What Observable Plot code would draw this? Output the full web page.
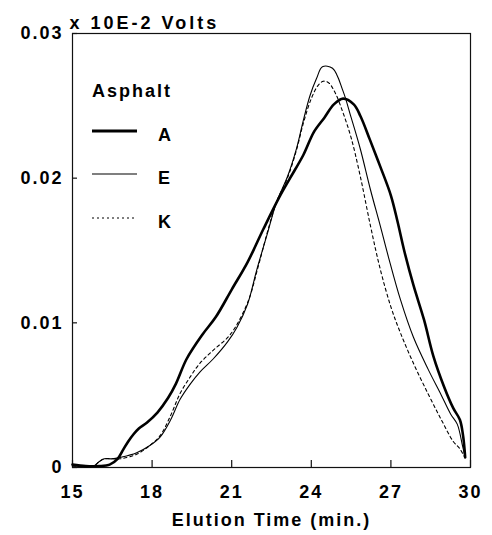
<!DOCTYPE html>
<html>
<head>
<meta charset="utf-8">
<script src="https://cdn.jsdelivr.net/npm/d3@7"></script>
<script src="https://cdn.jsdelivr.net/npm/@observablehq/plot@0.6"></script>
<style>
  html, body { margin: 0; padding: 0; background: #fff; }
  #wrap { position: relative; width: 492px; height: 535px; }
  #legend { position: absolute; left: 0; top: 0; pointer-events: none; }
  #legend text { font-family: "Liberation Sans", Arial, sans-serif; font-weight: bold; font-size: 18px; letter-spacing: 2px; fill: #000; }
</style>
</head>
<body>
<div id="wrap"></div>
<script>
// ---- data ----
const xTicks = [15, 18, 21, 24, 27, 30];
const yTicks = [0, 0.01, 0.02, 0.03];
const yTickLabels = ["0", "0.01", "0.02", "0.03"];
const seriesNames = ["A", "E", "K"];

const aTime = [15.0,15.5,16.0,16.4,16.7,16.9,17.1,17.3,17.5,17.8,18.2,18.6,18.9,19.3,19.9,20.4,21.0,21.6,22.2,22.8,23.2,23.7,24.1,24.5,24.85,25.2,25.6,25.85,26.2,26.6,27.0,27.25,27.5,27.85,28.25,28.6,29.0,29.35,29.6,29.72,29.8];
const aVolt = [0.0002,0.0001,0.0001,0.0002,0.0006,0.0012,0.0018,0.0023,0.0027,0.0031,0.0038,0.0048,0.0058,0.0075,0.0092,0.0104,0.0123,0.0142,0.0165,0.0187,0.0200,0.0216,0.0232,0.0242,0.0251,0.0255,0.0251,0.0243,0.0227,0.0208,0.0188,0.0170,0.0150,0.0126,0.0102,0.0077,0.0056,0.0041,0.0033,0.0022,0.0007];

const eTime = [15.0,15.8,16.0,16.2,16.5,16.8,17.4,17.9,18.3,18.7,19.05,19.45,19.8,20.3,20.85,21.2,21.6,21.95,22.35,22.7,23.1,23.45,23.7,23.95,24.2,24.42,24.8,25.2,25.5,25.85,26.23,26.6,26.9,27.36,27.85,28.4,28.9,29.25,29.5,29.7,29.8];
const eVolt = [0.0001,0.0001,0.0004,0.0006,0.0006,0.0007,0.0010,0.0015,0.0021,0.0033,0.0047,0.0058,0.0066,0.0075,0.0087,0.0097,0.0113,0.0137,0.0162,0.0184,0.0201,0.0221,0.0240,0.0257,0.0269,0.0277,0.0276,0.0260,0.0242,0.0220,0.0192,0.0167,0.0146,0.0116,0.0090,0.0068,0.0050,0.0037,0.0030,0.0015,0.0007];

const kTime = [15.0,15.8,16.0,16.2,16.5,16.8,17.4,17.9,18.3,18.7,19.05,19.45,19.8,20.3,20.95,21.6,22.0,22.35,22.7,23.1,23.45,23.7,24.0,24.25,24.45,24.65,24.9,25.2,25.5,25.85,26.23,26.6,27.0,27.36,27.85,28.4,28.9,29.35,29.6,29.75];
const kVolt = [0.0001,0.0001,0.0004,0.0006,0.0006,0.0006,0.0009,0.0015,0.0022,0.0036,0.0051,0.0063,0.0072,0.0081,0.0092,0.0114,0.0139,0.0163,0.0184,0.0200,0.0220,0.0238,0.0255,0.0264,0.0267,0.0266,0.0259,0.0245,0.0228,0.0201,0.0167,0.0137,0.0111,0.0093,0.0072,0.0051,0.0033,0.0018,0.0013,0.0008];

const toRows = (t, v, s) => t.map((x, i) => ({time: x, volt: v[i], series: s}));
const A = toRows(aTime, aVolt, "A");
const E = toRows(eTime, eVolt, "E");
const K = toRows(kTime, kVolt, "K");

const W = 492, H = 535;
const mTop = 33, mBottom = 68, mLeft = 72, mRight = 22;
const frameH = H - mTop - mBottom, frameW = W - mLeft - mRight;

const chart = Plot.plot({
  width: W,
  height: H,
  marginTop: mTop,
  marginBottom: mBottom,
  marginLeft: mLeft,
  marginRight: mRight,
  style: {fontFamily: "'Liberation Sans', Arial, sans-serif", fontSize: "18px", fontWeight: "bold", letterSpacing: "2px", color: "#000", background: "#fff"},
  x: {domain: [15, 30]},
  y: {domain: [0, 0.03]},
  marks: [
    Plot.frame({stroke: "#111", strokeWidth: 1.2}),
    Plot.ruleX(xTicks, {x: d => d, insetTop: frameH - 7, stroke: "#111", strokeWidth: 1.2}),
    Plot.ruleY(yTicks, {y: d => d, insetRight: frameW - 5, stroke: "#111", strokeWidth: 1.2}),
    Plot.axisX({ticks: xTicks, tickSize: 0, tickPadding: 18, label: null, tickFormat: d => String(d)}),
    Plot.axisY({ticks: yTicks, tickSize: 0, tickPadding: 9, label: null, tickFormat: d => yTickLabels[yTicks.indexOf(d)]}),
    Plot.line(A, {x: "time", y: "volt", stroke: "#000", strokeWidth: 2.6, curve: "catmull-rom"}),
    Plot.line(E, {x: "time", y: "volt", stroke: "#000", strokeWidth: 1.1, curve: "catmull-rom"}),
    Plot.line(K, {x: "time", y: "volt", stroke: "#000", strokeWidth: 1.1, strokeDasharray: "3,3", curve: "catmull-rom"}),
    Plot.text(["x 10E-2 Volts"], {frameAnchor: "top-left", text: d => d, textAnchor: "start", dx: -3, dy: -17, fill: "#000", style: "letter-spacing: 3px"}),
    Plot.text(["Elution Time (min.)"], {frameAnchor: "bottom", text: d => d, dy: 58, fill: "#000"})
  ]
});

const wrap = document.getElementById("wrap");
wrap.appendChild(chart);
// widen the unit caption a little, as in the reference
chart.querySelectorAll("text").forEach(t => { if (t.textContent === "x 10E-2 Volts") t.setAttribute("letter-spacing", "3px"); });

// legend overlay
const ns = "http://www.w3.org/2000/svg";
const lg = document.createElementNS(ns, "svg");
lg.setAttribute("id", "legend");
lg.setAttribute("width", W);
lg.setAttribute("height", H);
const mk = (tag, attrs, txt) => {
  const el = document.createElementNS(ns, tag);
  for (const k in attrs) el.setAttribute(k, attrs[k]);
  if (txt != null) el.textContent = txt;
  lg.appendChild(el);
  return el;
};
mk("text", {x: 92, y: 91, "dominant-baseline": "central"}, "Asphalt");
const legendStyles = [
  {w: 3, dash: null, y: 131},
  {w: 1.1, dash: null, y: 174},
  {w: 1.1, dash: "2,3", y: 218}
];
seriesNames.forEach((s, i) => {
  const st = legendStyles[i];
  const line = {x1: 92, x2: 137, y1: st.y, y2: st.y, stroke: "#000", "stroke-width": st.w};
  if (st.dash) line["stroke-dasharray"] = st.dash;
  mk("line", line);
  mk("text", {x: 158, y: st.y + 4, "dominant-baseline": "central"}, s);
});
wrap.appendChild(lg);
</script>
</body>
</html>
